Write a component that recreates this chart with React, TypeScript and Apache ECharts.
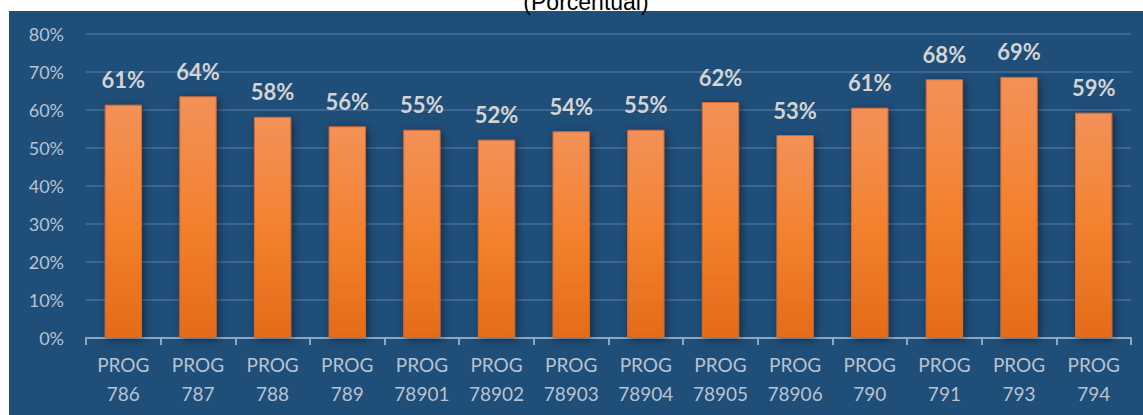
import React, { useEffect, useRef } from "react";
import * as echarts from "echarts";

const categories = [
  "PROG\n786", "PROG\n787", "PROG\n788", "PROG\n789", "PROG\n78901", "PROG\n78902", "PROG\n78903",
  "PROG\n78904", "PROG\n78905", "PROG\n78906", "PROG\n790", "PROG\n791", "PROG\n793", "PROG\n794",
];
const values = [61.4, 63.6, 58.2, 55.7, 54.8, 52.2, 54.4, 54.8, 62.1, 53.4, 60.6, 68.1, 68.7, 59.3];
const yTicks = { min: 0, max: 80, interval: 10 };
const titleText = "(Porcentual)";

const FONT = "Lato, 'Open Sans', sans-serif";

export default function App() {
  const ref = useRef<HTMLDivElement>(null);
  useEffect(() => {
    if (!ref.current) return;
    const chart = echarts.init(ref.current, undefined, { renderer: "svg" });
    chart.setOption({
      animation: false,
      backgroundColor: "#ffffff",
      graphic: [
        {
          type: "rect",
          z: -100,
          silent: true,
          shape: { x: 9, y: 11, width: 1134, height: 404 },
          style: { fill: "#1F4E79" },
        },
        {
          type: "text",
          z: 10,
          x: 586,
          y: 2,
          style: {
            text: titleText,
            fill: "#000000",
            font: "23px 'Liberation Sans', Arial, sans-serif",
            align: "center",
            verticalAlign: "middle",
          },
        },
      ],
      grid: { left: 86, right: 12, top: 34, bottom: 77, containLabel: false },
      xAxis: {
        type: "category",
        data: categories,
        axisLine: { show: true, lineStyle: { color: "#8FA8C2", width: 2 } },
        axisTick: { show: true, length: 7, lineStyle: { color: "#8FA8C2", width: 2 } },
        axisLabel: {
          color: "#B8C3CF",
          fontFamily: FONT,
          fontSize: 19,
          lineHeight: 29,
          margin: 12,
          interval: 0,
        },
      },
      yAxis: {
        type: "value",
        min: yTicks.min,
        max: yTicks.max,
        interval: yTicks.interval,
        axisLine: { show: false },
        axisTick: { show: false },
        axisLabel: {
          color: "#B8C3CF",
          fontFamily: FONT,
          fontSize: 18,
          margin: 22,
          formatter: "{value}%",
        },
        splitLine: { lineStyle: { color: "#3D6792", width: 2 } },
      },
      series: [
        {
          type: "bar",
          data: values,
          barWidth: "50%",
          itemStyle: {
            color: new echarts.graphic.LinearGradient(0, 0, 0, 1, [
              { offset: 0, color: "#F39159" },
              { offset: 0.5, color: "#F3822F" },
              { offset: 1, color: "#E46B19" },
            ]),
            borderColor: "#D86A2A",
            borderWidth: 1,
            shadowBlur: 8,
            shadowColor: "rgba(0,0,0,0.45)",
            shadowOffsetX: 2,
            shadowOffsetY: 2,
          },
          label: {
            show: true,
            position: "top",
            distance: 14,
            color: "#D4D4D4",
            fontFamily: FONT,
            fontSize: 22,
            fontWeight: "bold",
            lineHeight: 22,
            formatter: (p: any) => Math.round(p.value) + "%",
          },
        },
      ],
    });
    return () => chart.dispose();
  }, []);
  return (
    <div
      ref={ref}
      style={{ position: "absolute", left: 0, top: 0, width: 1143, height: 415 }}
    />
  );
}
